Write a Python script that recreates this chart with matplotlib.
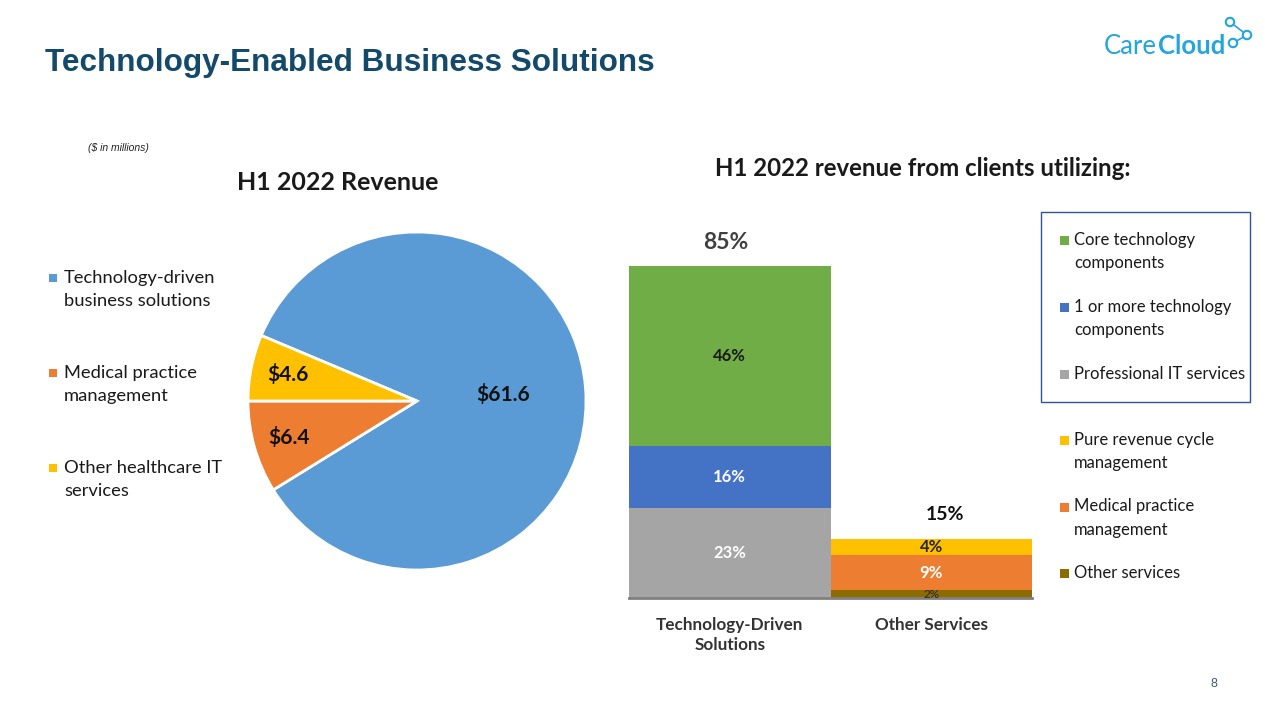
import matplotlib
matplotlib.use("Agg")
import matplotlib.pyplot as plt
import numpy as np
from matplotlib.patches import Rectangle, Circle
from matplotlib.lines import Line2D
from matplotlib.text import Annotation

# ---------------- data ----------------
pie_labels = ["Technology-driven\nbusiness solutions", "Medical practice\nmanagement",
              "Other healthcare IT\nservices"]
pie_values = [61.6, 6.4, 4.6]
pie_colors = ["#5B9BD5", "#ED7D31", "#FFC000"]

bar_categories = ["Technology-Driven\nSolutions", "Other Services"]
series_names = ["Core technology\ncomponents", "1 or more technology\ncomponents",
                "Professional IT services", "Pure revenue cycle\nmanagement",
                "Medical practice\nmanagement", "Other services"]
# stacking order bottom->top for each bar
tech_series = ["Professional IT services", "1 or more technology\ncomponents", "Core technology\ncomponents"]
tech_values = [23, 16, 46]
other_series = ["Other services", "Medical practice\nmanagement", "Pure revenue cycle\nmanagement"]
other_values = [2, 9, 4]
bar_totals = [85, 15]
series_colors = {
    "Core technology\ncomponents": "#70AD47",
    "1 or more technology\ncomponents": "#4472C4",
    "Professional IT services": "#A5A5A5",
    "Pure revenue cycle\nmanagement": "#FFC000",
    "Medical practice\nmanagement": "#ED7D31",
    "Other services": "#8C6B00",
}
label_colors = {
    "Core technology\ncomponents": "#1a1a1a",
    "1 or more technology\ncomponents": "white",
    "Professional IT services": "white",
    "Pure revenue cycle\nmanagement": "#262626",
    "Medical practice\nmanagement": "white",
    "Other services": "#262626",
}

W, H = 1265, 711
fig = plt.figure(figsize=(W / 100, H / 100), dpi=100)
FONT = ["Lato", "DejaVu Sans"]


def P(x, y):
    return (x / W, 1 - y / H)


def ftext(x, y, s, **kw):
    fx, fy = P(x, y)
    kw.setdefault("family", FONT)
    return fig.text(fx, fy, s, **kw)


# ---------------- header ----------------
ftext(45, 63, "Technology-Enabled Business Solutions", family=["Liberation Sans", "DejaVu Sans"],
      fontsize=22.7, fontweight="bold", color="#134A6B", va="center", ha="left")
# logo
LOGO = "#23A5DE"
care = ftext(1104, 46, "Care", fontsize=18.5, color=LOGO, va="center", ha="left",
             fontweight="normal", family=["Lato", "DejaVu Sans"])
cloud = Annotation("Cloud", xy=(1, 0.5), xycoords=care, xytext=(0.5, 0), textcoords="offset points",
                   fontsize=18.5, color=LOGO, va="center", ha="left", fontweight="bold",
                   family=["Lato", "DejaVu Sans"])
fig.add_artist(cloud)
pts = [(1230, 22), (1247, 35), (1233, 43)]
for a, b in [(0, 1), (1, 2)]:
    (x1, y1), (x2, y2) = P(*pts[a]), P(*pts[b])
    fig.add_artist(Line2D([x1, x2], [y1, y2], transform=fig.transFigure, color=LOGO, lw=1.2))
for (x, y) in pts:
    fx, fy = P(x, y)
    fig.add_artist(Circle((fx * W, fy * H), 4.2, transform=None, facecolor="white",
                          edgecolor=LOGO, lw=1.5, zorder=5))

ftext(88, 148, "($ in millions)", fontsize=7.5, style="italic", color="#222222",
      family=["Liberation Sans", "DejaVu Sans"], va="center", ha="left")
ftext(338, 182, "H1 2022 Revenue", fontsize=18, fontweight="bold", color="#1a1a1a",
      va="center", ha="center")
ftext(923, 168, "H1 2022 revenue from clients utilizing:", fontsize=17.3, fontweight="bold",
      color="#1a1a1a", va="center", ha="center")
ftext(1214, 684, "8", fontsize=9, color="#3a5a7a", va="center", ha="center",
      family=["Liberation Sans", "DejaVu Sans"])

# ---------------- pie ----------------
cx, cy, r = 417, 401, 169
axp = fig.add_axes([(cx - r) / W, (H - cy - r) / H, 2 * r / W, 2 * r / H])
start = 180 - pie_values[2] / sum(pie_values) * 360
wedges, _ = axp.pie(pie_values, colors=pie_colors, startangle=start, counterclock=False,
                    wedgeprops=dict(edgecolor="white", linewidth=2))
axp.set_xlim(-1, 1)
axp.set_ylim(-1, 1)
axp.set_aspect("equal")
axp.axis("off")
label_dist = [0.51, 0.79, 0.78]
for w, v, d in zip(wedges, pie_values, label_dist):
    ang = np.deg2rad((w.theta1 + w.theta2) / 2)
    axp.text(d * np.cos(ang), d * np.sin(ang), f"${v}", ha="center", va="center",
             fontsize=15, fontweight="bold", family=FONT, color="#111111")

# pie legend
leg_y = [(278, 301), (373, 396), (468, 491)]
for lab, col, (y1, y2) in zip(pie_labels, pie_colors, leg_y):
    fig.add_artist(Rectangle((49 / W, 1 - (y1 + 4) / H), 8 / W, 8 / H, transform=fig.transFigure,
                             facecolor=col, edgecolor="none"))
    ftext(64, (y1 + y2) / 2, lab, fontsize=13.2, color="#1a1a1a", va="center", ha="left",
          linespacing=1.5)

# ---------------- stacked bars ----------------
ax = fig.add_axes([629 / W, (H - 598) / H, (1032 - 629) / W, (598 - 266) / H])
x = np.arange(len(bar_categories))
for xi, names, vals in [(0, tech_series, tech_values), (1, other_series, other_values)]:
    bottom = 0
    for nm, v in zip(names, vals):
        ax.bar(xi, v, bottom=bottom, width=1.0, color=series_colors[nm], edgecolor="none")
        small = nm == "Other services"
        ax.text(xi, bottom + v / 2, f"{v}%", ha="center", va="center",
                fontsize=8.5 if small else 12, fontweight="normal" if small else "bold",
                color=label_colors[nm], family=FONT)
        bottom += v
ax.set_xlim(-0.5, 1.5)
ax.set_ylim(0, bar_totals[0])
for s in ["top", "right", "left"]:
    ax.spines[s].set_visible(False)
ax.spines["bottom"].set_color("#808080")
ax.spines["bottom"].set_linewidth(2)
ax.set_yticks([])
ax.set_xticks(x)
ax.set_xticklabels(bar_categories, fontsize=12.3, fontweight="bold", color="#333333",
                   family=FONT, linespacing=1.3)
ax.tick_params(axis="x", length=0, pad=14)
for xi, tot, dx, off, fs, col in [(0, bar_totals[0], -3, 17, 16.5, "#404040"),
                                   (1, bar_totals[1], 10, 18, 14, "#111111")]:
    ax.annotate(f"{tot}%", (xi, tot), xytext=(dx, off), textcoords="offset points",
                ha="center", va="center", fontsize=fs, fontweight="bold", color=col,
                family=FONT, annotation_clip=False)

# bar legend
fig.add_artist(Rectangle((1041 / W, 1 - 402 / H), (1250 - 1041) / W, (402 - 212) / H,
                         transform=fig.transFigure, facecolor="none", edgecolor="#2F5597", lw=1))
bl_y = [(240, 263), (307, 330), (374, None), (440, 463), (507, 529), (573, None)]
for nm, (y1, y2) in zip(series_names, bl_y):
    fig.add_artist(Rectangle((1060 / W, 1 - (y1 + 5) / H), 9 / W, 9 / H, transform=fig.transFigure,
                             facecolor=series_colors[nm], edgecolor="none"))
    yc = (y1 + y2) / 2 if y2 else y1
    ftext(1074, yc, nm, fontsize=12, color="#1a1a1a", va="center", ha="left", linespacing=1.6)

fig.savefig("out.png", dpi=100)
